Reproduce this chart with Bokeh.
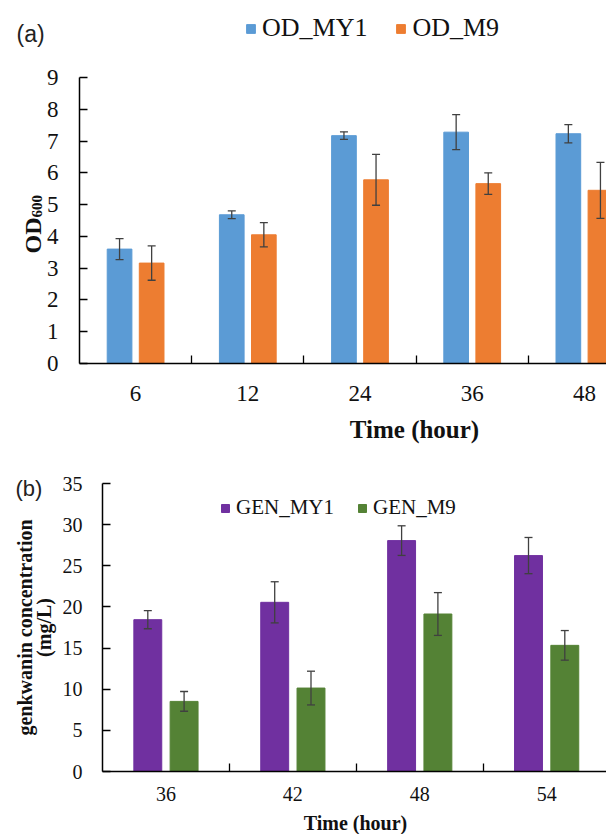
import numpy as np
from bokeh.plotting import figure
from bokeh.layouts import column
from bokeh.models import (ColumnDataSource, Range1d, FixedTicker, Whisker, TeeHead,
                          Legend, LegendItem, Label)
from bokeh.embed import file_html
from bokeh.resources import INLINE

# ---------------- data ----------------
times_a = ["6", "12", "24", "36", "48"]
od_my1 = [3.60, 4.68, 7.17, 7.28, 7.23]
od_my1_err = [0.33, 0.12, 0.12, 0.55, 0.29]
od_m9 = [3.16, 4.05, 5.78, 5.66, 5.45]
od_m9_err = [0.54, 0.38, 0.80, 0.34, 0.88]

times_b = ["36", "42", "48", "54"]
gen_my1 = [18.45, 20.56, 28.06, 26.24]
gen_my1_err = [1.10, 2.50, 1.80, 2.20]
gen_m9 = [8.52, 10.14, 19.14, 15.33]
gen_m9_err = [1.20, 2.05, 2.60, 1.80]

SERIF = "Liberation Serif"
SANS = "Liberation Sans"
ERR = "#404040"
TXT = "#111111"
W = 606


def panel(cats, s1, e1, s2, e2, names, colors, height, x0px, catpx, y0px, ytop_px,
          ymax, yticks, tick_fs, leg_fs, leg_loc, leg_glyph, leg_spacing):
    """x0px: pixel of the y axis; catpx: pixels per category;
    y0px / ytop_px: pixel rows (from figure top) of value 0 and ymax."""
    n = len(cats)
    centers = np.arange(n) + 0.5
    off, bw = 0.143, 0.22
    pxu = (y0px - ytop_px) / ymax
    xr = Range1d(-x0px / catpx, (W - x0px) / catpx)
    yr = Range1d(-(height - y0px) / pxu, y0px / pxu)
    p = figure(width=W, height=height, output_backend="svg", toolbar_location=None,
               x_range=xr, y_range=yr, min_border=0, min_border_left=0,
               min_border_right=0, min_border_top=0, min_border_bottom=0)
    p.outline_line_color = None
    p.grid.visible = False
    p.background_fill_color = "white"
    p.border_fill_color = "white"
    rends = []
    for vals, errs, dx, col in ((s1, e1, -off, colors[0]), (s2, e2, off, colors[1])):
        v = np.array(vals)
        e = np.array(errs)
        src = ColumnDataSource(dict(x=centers + dx, top=v, up=v + e, lo=v - e))
        r = p.vbar(x="x", top="top", bottom=0, width=bw, source=src,
                   fill_color=col, line_color=col)
        rends.append(r)
        w = Whisker(base="x", upper="up", lower="lo", source=src, dimension="height",
                    line_color=ERR, line_width=1.3, level="overlay",
                    upper_head=TeeHead(size=8, line_color=ERR, line_width=1.3),
                    lower_head=TeeHead(size=8, line_color=ERR, line_width=1.3))
        p.add_layout(w)
    # x axis
    xa = p.xaxis[0]
    xa.fixed_location = 0
    xa.bounds = (0, xr.end)
    xa.ticker = FixedTicker(ticks=list(centers), minor_ticks=list(range(1, n)))
    xa.major_label_overrides = {float(c): t for c, t in zip(centers, cats)}
    xa.major_tick_in = 0
    xa.major_tick_out = 0
    xa.minor_tick_in = 8
    xa.minor_tick_out = 0
    xa.minor_tick_line_color = "black"
    xa.minor_tick_line_width = 1.3
    xa.axis_line_color = "black"
    xa.axis_line_width = 1.5
    xa.major_label_text_font = SERIF
    xa.major_label_text_font_size = tick_fs
    xa.major_label_text_color = TXT
    # y axis
    ya = p.yaxis[0]
    ya.fixed_location = 0
    ya.bounds = (0, ymax)
    ya.ticker = FixedTicker(ticks=yticks)
    ya.major_tick_in = 8
    ya.major_tick_out = 0
    ya.minor_tick_in = 0
    ya.minor_tick_out = 0
    ya.major_tick_line_color = "black"
    ya.major_tick_line_width = 1.3
    ya.axis_line_color = "black"
    ya.axis_line_width = 1.5
    ya.major_label_text_font = SERIF
    ya.major_label_text_font_size = tick_fs
    ya.major_label_text_color = TXT
    leg = Legend(items=[LegendItem(label=names[0], renderers=[rends[0]]),
                        LegendItem(label=names[1], renderers=[rends[1]])],
                 orientation="horizontal", location=leg_loc, padding=0, margin=0,
                 spacing=leg_spacing, glyph_width=leg_glyph, glyph_height=leg_glyph,
                 label_standoff=6, label_height=leg_glyph, label_text_font=SERIF,
                 label_text_font_size=leg_fs, label_text_color=TXT,
                 border_line_color=None, background_fill_alpha=0)
    p.add_layout(leg, "center")
    return p


def label(p, x, y, text, font, size, bold=False, angle=0.0, align="center",
          baseline="middle", color=TXT):
    p.add_layout(Label(x=x, y=y, x_units="screen", y_units="screen", text=text,
                       text_font=font, text_font_size=size,
                       text_font_style="bold" if bold else "normal",
                       angle=angle, text_align=align, text_baseline=baseline,
                       text_color=color))


# ---------------- panel (a) ----------------
HA = 446
pa = panel(times_a, od_my1, od_my1_err, od_m9, od_m9_err, ["OD_MY1", "OD_M9"],
           ["#5B9BD5", "#ED7D31"], HA, 79, 112.2, 363, 77, 9,
           list(range(0, 10)), "23px", "26px", (245, 403), 11, 28)
pa.xaxis[0].major_label_standoff = 22
pa.yaxis[0].major_label_standoff = 21

label(pa, 16, HA - 33, "(a)", SANS, "23px", align="left", color="#222222")
label(pa, 414, HA - 429, "Time (hour)", SERIF, "25px", bold=True)
label(pa, 32, HA - 253, "OD", SERIF, "24px", bold=True, angle=np.pi / 2,
      align="left", baseline="alphabetic")
label(pa, 36, HA - 217, "600", SERIF, "15px", bold=True, angle=np.pi / 2,
      align="left", baseline="alphabetic")

# ---------------- panel (b) ----------------
HB = 388
TOPB = HA
pb = panel(times_b, gen_my1, gen_my1_err, gen_m9, gen_m9_err, ["GEN_MY1", "GEN_M9"],
           ["#7030A0", "#548235"], HB, 102, 126.9, 771 - TOPB, 483 - TOPB, 35,
           list(range(0, 36, 5)), "20px", "21px", (220, TOPB + HB - 507 - 13), 10, 23)
pb.xaxis[0].major_label_standoff = 15
pb.yaxis[0].major_label_standoff = 20

BOT = TOPB + HB
label(pb, 15, BOT - 488, "(b)", SANS, "22px", align="left", color="#222222")
label(pb, 355, BOT - 822, "Time (hour)", SERIF, "20px", bold=True)
label(pb, 24, BOT - 627, "genkwanin concentration", SERIF, "20px", bold=True,
      angle=np.pi / 2)
label(pb, 43, BOT - 627, "(mg/L)", SERIF, "20px", bold=True, angle=np.pi / 2)

layout = column(pa, pb, spacing=0)
open("out.html", "w").write(file_html(layout, INLINE))
